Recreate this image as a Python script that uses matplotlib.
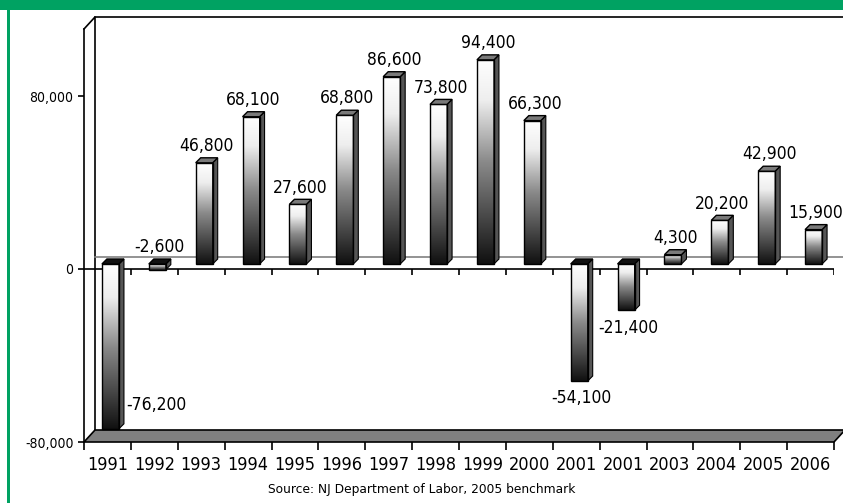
import numpy as np
import matplotlib.pyplot as plt
from matplotlib.patches import Polygon, Rectangle
from matplotlib.colors import LinearSegmentedColormap

years = ["1991", "1992", "1993", "1994", "1995", "1996", "1997", "1998",
         "1999", "2000", "2001", "2001", "2003", "2004", "2005", "2006"]
jobs = [-76200, -2600, 46800, 68100, 27600, 68800, 86600, 73800,
        94400, 66300, -54100, -21400, 4300, 20200, 42900, 15900]
y_ticks = [-80000, 0, 80000]

NARROW = ["DejaVu Sans"]
GREEN = "#00a262"

W, H = 843, 503
fig = plt.figure(figsize=(W / 100, H / 100), dpi=100)

# front plane of the 3d box, in pixels
left_px, right_px, top_px, bottom_px = 84, 834, 29, 442
ax = fig.add_axes([left_px / W, 1 - bottom_px / H,
                   (right_px - left_px) / W, (bottom_px - top_px) / H])

n = len(jobs)
ymin = -80000
px_per_unit = 173 / 80000
ymax = ymin + (bottom_px - top_px) / px_per_unit
px_per_cat = (right_px - left_px) / n


def off(dx_px, dy_px):
    return dx_px / px_per_cat, dy_px / px_per_unit


x = np.arange(n)
xl, xr = -0.5, n - 0.5

# back wall and floor
wx, wy = off(11, 12)
ax.plot([xl, xl + wx, xl + wx], [ymax, ymax + wy, ymin + wy], color="black",
        lw=1.2, clip_on=False, zorder=1)
ax.plot([xl + wx, xr + 2 * wx], [ymax + wy, ymax + wy], color="black",
        lw=1.2, clip_on=False, zorder=1)
ax.plot([xl + wx, xr + 2 * wx], [wy, wy], color="#808080", lw=1.2,
        clip_on=False, zorder=1)
floor = Polygon([(xl, ymin), (xr, ymin), (xr + wx, ymin + wy),
                 (xr + 2 * wx, ymin + wy), (xl + wx, ymin + wy)],
                closed=True, facecolor="#808080", edgecolor="black", lw=1.2,
                clip_on=False, zorder=2)
ax.add_patch(floor)

# front zero line with small ticks
ax.plot([xl, xr], [0, 0], color="black", lw=1.2, zorder=2)
tick_dy = off(0, 6)[1]
ax.vlines(x + 0.5, -tick_dy, 0, color="black", lw=1.2, zorder=2)

# bars
cmap = LinearSegmentedColormap.from_list(
    "bar", [(0, "#101010"), (0.5, "#8a8a8a"), (0.8, "#eeeeee"), (1, "#ffffff")])
grad = np.linspace(1, 0, 256).reshape(-1, 1)
bw = 17 / px_per_cat
fx, fy = off(3, 5)
dx, dy = off(5, 5)

for i, v in enumerate(jobs):
    x0 = i - bw / 2 + fx
    x1 = x0 + bw
    lo, hi = min(0, v) + fy, max(0, v) + fy
    ax.imshow(grad, cmap=cmap, extent=(x0, x1, lo, hi), aspect="auto",
              zorder=4, interpolation="bilinear")
    ax.add_patch(Rectangle((x0, lo), bw, hi - lo, fill=False,
                           edgecolor="black", lw=1, zorder=5))
    side = Polygon([(x1, lo), (x1 + dx, lo + dy), (x1 + dx, hi + dy), (x1, hi)],
                   closed=True, facecolor="#555555", edgecolor="black",
                   lw=0.8, zorder=4)
    ax.add_patch(side)
    cap_color = "#7a7a7a" if v > 0 else "#111111"
    cap = Polygon([(x0, hi), (x1, hi), (x1 + dx, hi + dy), (x0 + dx, hi + dy)],
                  closed=True, facecolor=cap_color, edgecolor="black",
                  lw=1, zorder=5)
    ax.add_patch(cap)

    label = f"{v:,}"
    cx = i + fx + dx / 2
    kw = dict(ha="center", fontsize=12.5, family=NARROW, fontstretch="condensed",
              textcoords="offset points")
    if i == 0:
        ax.annotate(label, xy=(cx, v), xytext=(31, 21), va="center", **kw)
    elif v < -5000:
        ax.annotate(label, xy=(cx, v + fy), xytext=(0, -6), va="top", **kw)
    else:
        ax.annotate(label, xy=(cx, hi + dy), xytext=(0, 2), va="bottom", **kw)

ax.set_xlim(xl, xr)
ax.set_ylim(ymin, ymax)

for s in ["top", "right", "bottom"]:
    ax.spines[s].set_visible(False)
ax.spines["left"].set_linewidth(1.2)
ax.patch.set_visible(False)

ax.set_yticks(y_ticks)
ax.set_yticklabels([f"{t:,}" for t in y_ticks], family=NARROW, fontsize=10,
                   fontstretch="condensed")
ax.tick_params(axis="y", length=4.5, width=1.2, pad=3)

ax.set_xticks(np.arange(n + 1) - 0.5)
ax.set_xticklabels([])
ax.set_xticks(x, minor=True)
ax.set_xticklabels(years, minor=True, family=NARROW, fontsize=13,
                   fontstretch="condensed")
ax.tick_params(axis="x", which="major", length=5.5, width=1.2)
ax.tick_params(axis="x", which="minor", length=0, pad=10)

fig.text(422 / W, 1 - 490 / H, "Source: NJ Department of Labor, 2005 benchmark",
         ha="center", va="center", fontsize=8.8, family="DejaVu Sans")

# green frame
fig.patches.append(Rectangle((0, 1 - 10 / H), 1, 10 / H, transform=fig.transFigure,
                             facecolor=GREEN, edgecolor="none", zorder=0))
fig.patches.append(Rectangle((7 / W, 0), 3 / W, 1, transform=fig.transFigure,
                             facecolor=GREEN, edgecolor="none", zorder=0))

fig.savefig("out.png", dpi=100, facecolor="white")
